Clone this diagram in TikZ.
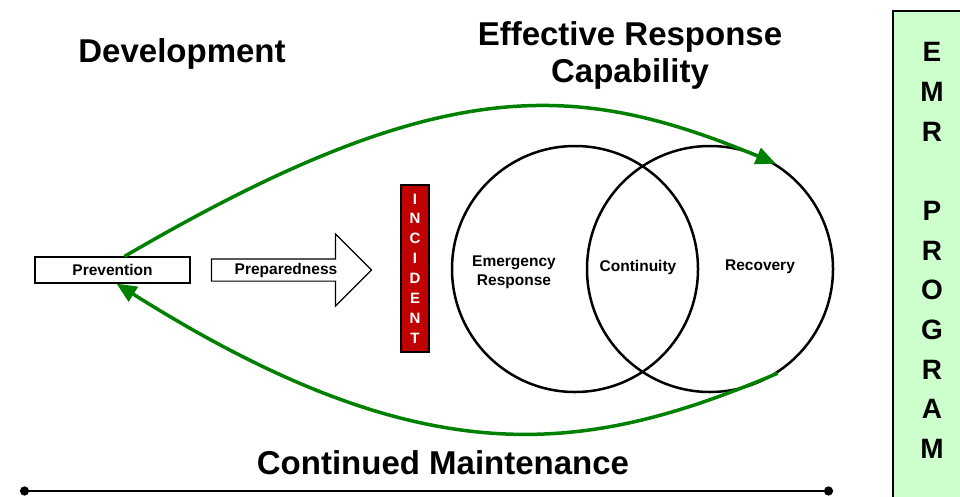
\documentclass[tikz,border=0pt]{standalone}
\usepackage{fontspec}
\setmainfont{Liberation Sans}
\usepackage{xcolor}
\usetikzlibrary{arrows.meta}
\usetikzlibrary{shapes.arrows}
\usetikzlibrary{calc}

\definecolor{cyclegreen}{RGB}{0,128,0}
\definecolor{incidentred}{RGB}{192,0,0}
\definecolor{programgreen}{RGB}{204,255,204}

\tikzset{
    title/.style={font=\fontsize{33}{37}\selectfont\bfseries, align=center},
    phasebox/.style={draw, line width=1.2pt, font=\fontsize{15.5}{18}\selectfont\bfseries, inner sep=0pt},
    ring/.style={draw, circle, line width=2.5pt, minimum size=246pt, inner sep=0pt},
    ringtext/.style={font=\fontsize{15.5}{19}\selectfont\bfseries, align=center},
    cycle/.style={cyclegreen, line width=3.5pt, -{Triangle[length=20pt,width=17pt]}}
}

\begin{document}
\begin{tikzpicture}[x=1pt,y=-1pt]
        \useasboundingbox (0,0) rectangle (960,496);

        \node[title] (dev) at (182,54) {Development};
        \node[title] (erc) at (630,55) {Effective Response\\Capability};
        \node[title] (maint) at (443,463) {Continued Maintenance};

        \node[phasebox, minimum width=155pt, minimum height=26pt] (prev) at (112.5,270) {Prevention};
        \node[phasebox, single arrow, minimum height=160pt, text height=11pt, text depth=3pt,
              inner ysep=3.5pt, inner xsep=0pt, single arrow head extend=25pt] (prep) at (286,270) {Preparedness};

        \node[draw, line width=1.2pt, fill=incidentred, text=white, minimum width=28pt, minimum height=167pt,
              inner sep=0pt, align=center, font=\fontsize{15}{19.9}\selectfont\bfseries] (inc) at (415,268.5)
              {I\\N\\C\\I\\D\\E\\N\\T};

        \node[ring] (er) at (575,269) {};
        \node[ring] (rc) at (710,269) {};
        \node[ringtext] (ertext) at (514,272) {Emergency\\Response};
        \node[ringtext] (cont) at (638,267) {Continuity};
        \node[ringtext] (rec) at (760,267) {Recovery};

        \draw[cycle] ([xshift=12pt]prev.north) .. controls (440,72) and (575,80) .. (rc.58);
        \draw[cycle] (rc.-57) .. controls (585,455) and (425,478) .. ([xshift=4pt]prev.south);

        \coordinate (lineL) at (20,491);
        \coordinate (lineR) at (833,491);
        \draw[line width=2.8pt, {Circle[length=9pt]}-{Circle[length=9pt]}] (lineL) -- (lineR);

        \node[draw, line width=1.5pt, fill=programgreen, minimum width=80pt, minimum height=496pt,
              anchor=north west, inner sep=0pt] (emr) at (892,10) {};
        \node[align=center, font=\fontsize{28}{39.7}\selectfont\bfseries] (emrtext) at (932,250.5)
              {E\\M\\R\\~\\P\\R\\O\\G\\R\\A\\M};
    \end{tikzpicture}
\end{document}
